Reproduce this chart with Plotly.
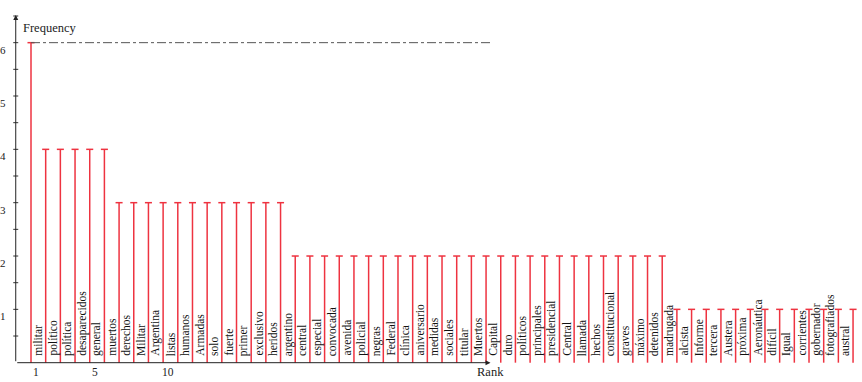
import plotly.graph_objects as go

# ---- data ----
words = ["militar", "político", "política", "desaparecidos", "general", "muertos",
         "derechos", "Militar", "Argentina", "listas", "humanos", "Armadas", "solo",
         "fuerte", "primer", "exclusivo", "heridos", "argentino",
         "central", "especial", "convocada", "avenida", "policial", "negras", "Federal",
         "clínica", "aniversario", "medidas", "sociales", "titular", "Muertos", "Capital",
         "duro", "políticos", "principales", "presidencial", "Central", "llamada", "hechos",
         "constitucional", "graves", "máximo", "detenidos", "madrugada",
         "alcista", "Informe", "tercera", "Austera", "próxima", "Aeronáutica", "difícil",
         "Igual", "corrientes", "gobernador", "fotografiados", "austral", ""]
freqs = [6, 4, 4, 4, 4, 4,
         3, 3, 3, 3, 3, 3, 3, 3, 3, 3, 3, 3,
         2, 2, 2, 2, 2, 2, 2, 2, 2, 2, 2, 2, 2, 2, 2, 2, 2, 2, 2, 2, 2, 2, 2, 2, 2, 2,
         1, 1, 1, 1, 1, 1, 1, 1, 1, 1, 1, 1, 1]
ranks = list(range(1, len(freqs) + 1))
rank_ticks = [1, 5, 10]
freq_ticks = [1, 2, 3, 4, 5, 6]

RED = "#ee3340"
SERIF = "Liberation Serif"
cap = 0.24

xs, ys = [], []
for r, v in zip(ranks, freqs):
    xs += [r, r, None, r - cap, r + cap, None]
    ys += [0, v, None, v, v, None]

fig = go.Figure()
fig.add_trace(go.Scatter(x=xs, y=ys, mode="lines", line=dict(color=RED, width=1.5),
                         hoverinfo="skip", showlegend=False))

# axis geometry (in data units)
xa = -0.04          # y-axis position
x_end = 32.3        # end of x-axis arrow
y_top = 6.52        # top of y-axis arrow

shapes = []
# max frequency dash-dot line
shapes.append(dict(type="line", xref="x", yref="y", x0=1, x1=32.4, y0=max(freqs), y1=max(freqs),
                   line=dict(color="#555555", width=1, dash="dashdot")))
# y ticks (major and minor)
for t in freq_ticks:
    for yy in (t, t - 0.5):
        shapes.append(dict(type="line", xref="x", yref="y", xsizemode="pixel", xanchor=xa,
                           x0=-2.5, x1=2.5, y0=yy, y1=yy, line=dict(color="#333333", width=1)))
shapes.append(dict(type="line", xref="x", yref="y", xsizemode="pixel", xanchor=xa,
                   x0=-2.5, x1=2.5, y0=6.5, y1=6.5, line=dict(color="#333333", width=1)))

annotations = []
# axes with arrows
annotations.append(dict(x=xa, y=y_top, ax=xa, ay=0, xref="x", yref="y", axref="x", ayref="y",
                        text="", showarrow=True, arrowhead=2, arrowsize=1, arrowwidth=1,
                        arrowcolor="#222222"))
annotations.append(dict(x=x_end, y=0, ax=xa, ay=0, xref="x", yref="y", axref="x", ayref="y",
                        text="", showarrow=True, arrowhead=2, arrowsize=1, arrowwidth=1,
                        arrowcolor="#222222"))
# axis titles
annotations.append(dict(x=0.35, y=6.28, xref="x", yref="y", text="Frequency", showarrow=False,
                        xanchor="left", yanchor="middle", font=dict(family=SERIF, size=12.5, color="#222")))
annotations.append(dict(x=x_end, y=-0.17, xref="x", yref="y", text="Rank", showarrow=False,
                        xanchor="center", yanchor="middle", font=dict(family=SERIF, size=12.5, color="#222")))
# y tick labels
for t in freq_ticks:
    annotations.append(dict(x=0, y=t - 0.13, xref="paper", yref="y", text=str(t), showarrow=False,
                            xanchor="left", yanchor="middle", xshift=-2,
                            font=dict(family=SERIF, size=11, color="#222")))
# x tick labels
for t in rank_ticks:
    annotations.append(dict(x=t + 0.35, y=-0.17, xref="x", yref="y", text=str(t), showarrow=False,
                            xanchor="center", yanchor="middle",
                            font=dict(family=SERIF, size=11.5, color="#222")))
# word labels
for r, w in zip(ranks, words):
    if not w:
        continue
    annotations.append(dict(x=r + 0.5, y=0.09, xref="x", yref="y", text=w, showarrow=False,
                            textangle=-90, xanchor="center", yanchor="bottom",
                            font=dict(family=SERIF, size=11.5, color="#111")))

fig.update_layout(
    width=862, height=382,
    margin=dict(l=0, r=0, t=0, b=0),
    paper_bgcolor="white", plot_bgcolor="white",
    xaxis=dict(range=[-1.112, 57.61], visible=False, fixedrange=True),
    yaxis=dict(range=[-0.362, 6.80], visible=False, fixedrange=True),
    shapes=shapes, annotations=annotations,
    showlegend=False,
)

fig.write_html("out.html")
